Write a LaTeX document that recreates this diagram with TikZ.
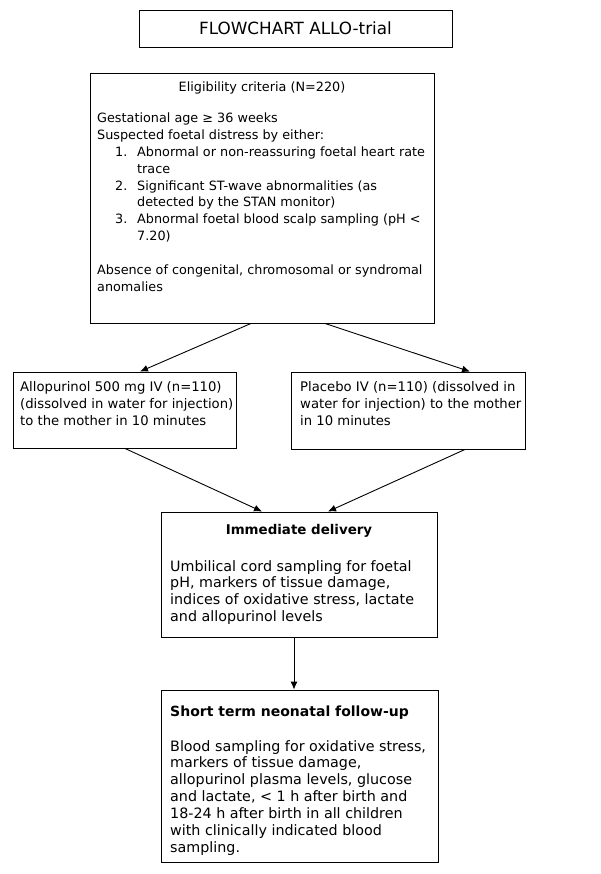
\documentclass[tikz,border=0pt]{standalone}
\usepackage{fontspec}
\setmainfont{DejaVu Sans}
\usetikzlibrary{arrows.meta}
\begin{document}
\begin{tikzpicture}[x=1pt,y=-1pt,
  box/.style={draw,line width=0.9pt,inner sep=0pt},
  txt/.style={inner sep=0pt,anchor=north west,align=left},
  fe/.style={font=\fontsize{12.8}{16.9}\selectfont},
  fm/.style={font=\fontsize{13.2}{16.9}\selectfont},
  fb/.style={font=\fontsize{14.3}{16.9}\selectfont},
  arr/.style={-{Latex[length=8pt,width=7pt]},line width=0.9pt}]
\useasboundingbox (0,0) rectangle (600,874);
% boxes
\node[box,minimum width=313pt,minimum height=37pt] (title) at (295.5,28.5) {};
\node[box,minimum width=344pt,minimum height=250pt] (elig) at (262,198) {};
\node[box,minimum width=223pt,minimum height=76pt] (allo) at (124.5,410) {};
\node[box,minimum width=234pt,minimum height=77pt] (plac) at (408,410.5) {};
\node[box,minimum width=276pt,minimum height=125pt] (imm) at (299,574.5) {};
\node[box,minimum width=277pt,minimum height=172pt] (short) at (299.5,776) {};
% texts
\node[inner sep=0pt,font=\fontsize{16.8}{20}\selectfont] (titletxt) at (title.center) {FLOWCHART ALLO-trial};
\node[inner sep=0pt,anchor=base,fe] (eligh) at (262,92) {Eligibility criteria (N=220)};
\node[txt,fe] (eligb) at (97,112.5) {Gestational age ≥ 36 weeks\\
Suspected foetal distress by either:\\
\hspace*{18pt}\makebox[22pt][l]{1.}Abnormal or non-reassuring foetal heart rate\\
\hspace*{40pt}trace\\
\hspace*{18pt}\makebox[22pt][l]{2.}Significant ST-wave abnormalities (as\\
\hspace*{40pt}detected by the STAN monitor)\\
\hspace*{18pt}\makebox[22pt][l]{3.}Abnormal foetal blood scalp sampling (pH <\\
\hspace*{40pt}7.20)\\[16.9pt]
Absence of congenital, chromosomal or syndromal\\
anomalies};
\node[txt,fm] (allot) at (20,381.5) {Allopurinol 500 mg IV (n=110)\\
(dissolved in water for injection)\\
to the mother in 10 minutes};
\node[txt,fm] (plact) at (300,381.5) {Placebo IV (n=110) (dissolved in\\
water for injection) to the mother\\
in 10 minutes};
\node[inner sep=0pt,anchor=base,font=\fontsize{13.4}{16.9}\selectfont\bfseries] (immh) at (299,534) {Immediate delivery};
\node[txt,fb] (immb) at (170,560) {Umbilical cord sampling for foetal\\
pH, markers of tissue damage,\\
indices of oxidative stress, lactate\\
and allopurinol levels};
\node[inner sep=0pt,anchor=base west,font=\fontsize{14}{16.9}\selectfont\bfseries] (shorth) at (170,716) {Short term neonatal follow-up};
\node[txt,fb] (shortb) at (170,740) {Blood sampling for oxidative stress,\\
markers of tissue damage,\\
allopurinol plasma levels, glucose\\
and lactate, < 1 h after birth and\\
18-24 h after birth in all children\\
with clinically indicated blood\\
sampling.};
% arrows
\draw[arr] ([xshift=-11pt]elig.south) -- ([xshift=15.5pt]allo.north);
\draw[arr] ([xshift=63pt]elig.south) -- ([xshift=62pt]plac.north);
\draw[arr] ([xshift=0.5pt]allo.south) -- ([xshift=-37pt]imm.north);
\draw[arr] ([xshift=57pt]plac.south) -- ([xshift=29pt]imm.north);
\draw[arr] ([xshift=-5pt]imm.south) -- ([xshift=-5.5pt]short.north);
\end{tikzpicture}
\end{document}
